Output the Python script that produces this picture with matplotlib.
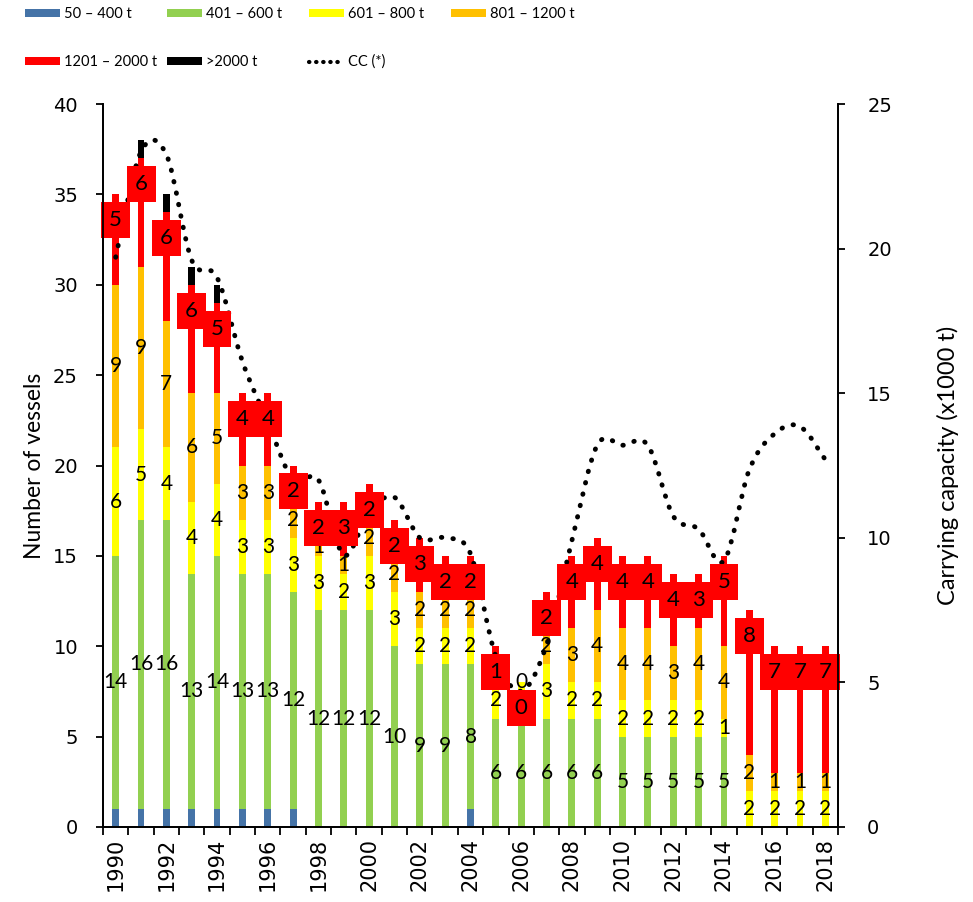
import matplotlib
matplotlib.use("Agg")
import matplotlib.pyplot as plt
from matplotlib.path import Path
from matplotlib.patches import PathPatch
from matplotlib.lines import Line2D

# vessel counts per size class
years = list(range(1990, 2019))
t50_400 = [1, 1, 1, 1, 1, 1, 1, 1, 0, 0, 0, 0, 0, 0, 1, 0, 0, 0, 0, 0, 0, 0, 0, 0, 0, 0, 0, 0, 0]
t401_600 = [14, 16, 16, 13, 14, 13, 13, 12, 12, 12, 12, 10, 9, 9, 8, 6, 6, 6, 6, 6, 5, 5, 5, 5, 5, 0, 0, 0, 0]
t601_800 = [6, 5, 4, 4, 4, 3, 3, 3, 3, 2, 3, 3, 2, 2, 2, 2, 2, 3, 2, 2, 2, 2, 2, 2, 1, 2, 2, 2, 2]
t801_1200 = [9, 9, 7, 6, 5, 3, 3, 2, 1, 1, 2, 2, 2, 2, 2, 1, 0, 2, 3, 4, 4, 4, 3, 4, 4, 2, 1, 1, 1]
t1201_2000 = [5, 6, 6, 6, 5, 4, 4, 2, 2, 3, 2, 2, 3, 2, 2, 1, 0, 2, 4, 4, 4, 4, 4, 3, 5, 8, 7, 7, 7]
t2000 = [0, 1, 1, 1, 1, 0, 0, 0, 0, 0, 0, 0, 0, 0, 0, 0, 0, 0, 0, 0, 0, 0, 0, 0, 0, 0, 0, 0, 0]
# carrying capacity (x1000 t)
cc = [19.7, 23.35, 23.25, 19.6, 19.0, 16.1, 14.0, 12.0, 12.0, 9.4, 10.9, 11.4, 10.0, 10.0, 9.45,
      5.9, 4.7, 6.3, 9.9, 13.2, 13.2, 13.2, 10.75, 10.3, 9.2, 12.35, 13.6, 13.85, 12.7]

series = [
    ("50 \u2013 400 t", t50_400, "#4573A7"),
    ("401 \u2013 600 t", t401_600, "#92D050"),
    ("601 \u2013 800 t", t601_800, "#FFFF00"),
    ("801 \u2013 1200 t", t801_1200, "#FFC000"),
    ("1201 \u2013 2000 t", t1201_2000, "#FF0000"),
    (">2000 t", t2000, "#000000"),
]

plt.rcParams["font.family"] = ["Lato", "DejaVu Sans"]

fig = plt.figure(figsize=(9.73, 9.02), dpi=100)
ax = fig.add_axes([103 / 973, 75 / 902, 735 / 973, 723 / 902])
ax2 = ax.twinx()

bottom = [0] * len(years)
handles = {}
for name, vals, col in series:
    bars = ax.bar(years, vals, width=0.27, bottom=bottom, color=col, zorder=2, label=name)
    handles[name] = bars
    for i, v in enumerate(vals):
        y0 = bottom[i]
        if name.startswith("401") and v > 0:
            ax.text(years[i], y0 + v / 2, str(v), ha="center", va="center", fontsize=15, zorder=4)
        elif name.startswith("601") or name.startswith("801"):
            ax.text(years[i], y0 + v / 2, str(v), ha="center", va="center", fontsize=15, zorder=4)
        elif name.startswith("1201"):
            ax.annotate(str(v), (years[i], y0 + v), xytext=(0, -11.5), textcoords="offset points",
                        ha="center", va="top", fontsize=16, zorder=5 + i * 0.01,
                        bbox=dict(boxstyle="square,pad=0.36", fc="#FF0000", ec="none"))
    bottom = [b + v for b, v in zip(bottom, vals)]

# smoothed CC line (cubic Bezier through the points, like Excel's smoothed line)
verts = [(years[0], cc[0])]
codes = [Path.MOVETO]
n = len(years)
for i in range(n - 1):
    p0 = (years[max(i - 1, 0)], cc[max(i - 1, 0)])
    p1 = (years[i], cc[i])
    p2 = (years[i + 1], cc[i + 1])
    p3 = (years[min(i + 2, n - 1)], cc[min(i + 2, n - 1)])
    c1 = (p1[0] + (p2[0] - p0[0]) / 6, p1[1] + (p2[1] - p0[1]) / 6)
    c2 = (p2[0] - (p3[0] - p1[0]) / 6, p2[1] - (p3[1] - p1[1]) / 6)
    verts += [c1, c2, p2]
    codes += [Path.CURVE4] * 3
dots = (0, (0.1, 2.3))
ax.add_patch(PathPatch(Path(verts, codes), transform=ax2.transData, fill=False, ec="black",
                       lw=3.5, ls=dots, capstyle="round", zorder=3))

ax.set_xlim(1989.5, 2018.5)
ax.set_ylim(0, 40)
ax2.set_ylim(0, 25)
ax.set_yticks(range(0, 41, 5))
ax2.set_yticks(range(0, 26, 5))

ax.set_xticks([y - 0.5 for y in years] + [2018.5])
ax.set_xticklabels([])
ax.set_xticks([y for y in years if y % 2 == 0], minor=True)
ax.set_xticklabels([str(y) for y in years if y % 2 == 0], minor=True, rotation=90)
ax.tick_params(axis="x", which="minor", length=0, pad=8, labelsize=15)
ax.tick_params(axis="x", which="major", length=6, width=1.3)
ax.tick_params(axis="y", length=5, width=1.3, pad=13, labelsize=14)
ax2.tick_params(axis="y", length=5, width=1.3, pad=16, labelsize=14)
for a in (ax, ax2):
    a.tick_params(labelfontfamily="DejaVu Sans", which="both")
    a.spines["top"].set_visible(False)
    for s in ("left", "right", "bottom"):
        a.spines[s].set_linewidth(1.3)

ax.set_ylabel("Number of vessels", fontsize=16.5, labelpad=6)
ax2.set_ylabel("Carrying capacity (x1000 t)", fontsize=17, labelpad=32)

# legend: two rows of entries, one small legend per entry
cc_handle = Line2D([], [], color="black", lw=3, ls=(0, (0.1, 1.6)), dash_capstyle="round")
entries = [
    (handles["50 \u2013 400 t"], "50 \u2013 400 t", 25, 14),
    (handles["401 \u2013 600 t"], "401 \u2013 600 t", 167, 14),
    (handles["601 \u2013 800 t"], "601 \u2013 800 t", 309, 14),
    (handles["801 \u2013 1200 t"], "801 \u2013 1200 t", 451, 14),
    (handles["1201 \u2013 2000 t"], "1201 \u2013 2000 t", 25, 62),
    (handles[">2000 t"], ">2000 t", 167, 62),
    (cc_handle, "CC (*)", 309, 62),
]
for h, lab, x, y in entries:
    fig.legend([h], [lab], loc="center left", bbox_to_anchor=(x / 973, 1 - y / 902),
               frameon=False, fontsize=10.5, handlelength=2.4, handleheight=0.5,
               handletextpad=0.3, borderpad=0, borderaxespad=0)

fig.savefig("out.png", dpi=100)
